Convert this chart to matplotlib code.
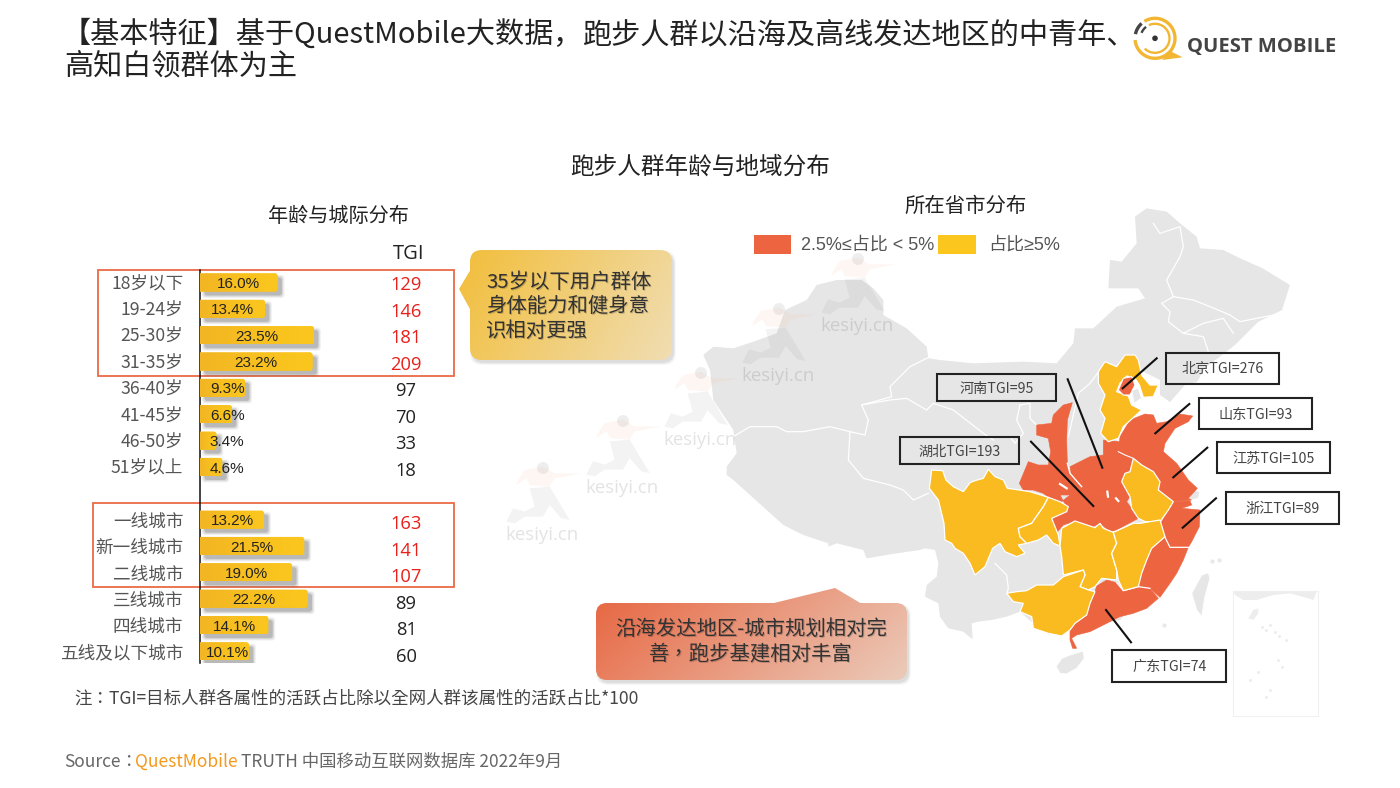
import numpy as np
import matplotlib
matplotlib.use('Agg')
import matplotlib.pyplot as plt
from matplotlib.colors import LinearSegmentedColormap
from matplotlib.patches import Circle, FancyBboxPatch, Polygon, Rectangle

plt.rcParams['font.family'] = ['Noto Sans CJK SC', 'DejaVu Sans']
TC_FONT = ['Noto Sans CJK TC', 'DejaVu Sans']

age_labels = ['18岁以下', '19-24岁', '25-30岁', '31-35岁', '36-40岁', '41-45岁', '46-50岁', '51岁以上']
age_share = [16.0, 13.4, 23.5, 23.2, 9.3, 6.6, 3.4, 4.6]
age_tgi = [129, 146, 181, 209, 97, 70, 33, 18]
city_labels = ['一线城市', '新一线城市', '二线城市', '三线城市', '四线城市', '五线及以下城市']
city_share = [13.2, 21.5, 19.0, 22.2, 14.1, 10.1]
city_tgi = [163, 141, 107, 89, 81, 60]
highlight_rows = [0, 1, 2, 3, 9, 10, 11]

province_tags = ['河南TGI=95', '湖北TGI=193', '北京TGI=276', '山东TGI=93', '江苏TGI=105', '浙江TGI=89', '广东TGI=74']

ORANGE = '#ED6440'
YELLOW = '#FABB20'
GREY = '#E6E6E6'
RED = '#E8201A'


def zoomed(pts, x0, y0):
    # outlines were traced on 3x crops of the picture
    return [(x0 + x / 3, y0 + y / 3) for x, y in pts]


xinjiang_edge = zoomed([(610, 465), (640, 440), (700, 445), (760, 425), (830, 400), (855, 330), (920, 300), (950, 255),
                        (1010, 240), (1085, 240), (1120, 265), (1150, 300), (1150, 345), (1220, 385), (1280, 440),
                        (1285, 475)], 500, 200)
north_edge = zoomed([(0, 480), (100, 490), (250, 485), (350, 490), (400, 430), (405, 385), (460, 385), (530, 320),
                     (615, 295), (595, 265), (505, 265), (510, 180), (545, 185), (590, 130), (585, 50), (620, 25),
                     (680, 35), (720, 70), (770, 110), (780, 145), (850, 150), (900, 175)], 940, 200)
east_edge = [(1262, 268), (1290, 285), (1282, 310), (1258, 322), (1235, 345), (1205, 368), (1197, 382), (1185, 385),
             (1170, 402), (1160, 395), (1160, 380), (1140, 370), (1120, 390), (1112, 430), (1150, 500), (1170, 560),
             (1120, 620), (1065, 630), (1035, 625)]
yunnan_edge = zoomed([(300, 455), (260, 470), (215, 480), (175, 485), (155, 490), (158, 538), (130, 515), (85, 505),
                      (60, 470), (55, 430), (15, 410), (20, 375), (50, 350), (55, 310), (45, 270), (15, 265),
                      (0, 270)], 920, 460)
tibet_edge = zoomed([(1190, 1060), (1100, 1075), (1090, 1050), (1010, 1030), (985, 1040), (985, 1030), (910, 1005),
                     (850, 975), (750, 885), (700, 840), (680, 825), (680, 800), (710, 760), (700, 690), (640, 600),
                     (630, 510)], 500, 200)
china_outline = xinjiang_edge + north_edge + east_edge + yunnan_edge + tibet_edge

grey_borders = [
    zoomed([(700, 710), (750, 680), (830, 680), (860, 695), (910, 695), (990, 680), (1050, 695), (1095, 705),
            (1105, 660), (1085, 615), (1170, 600), (1220, 595), (1280, 630), (1300, 610), (1360, 630), (1450, 700),
            (1480, 720)], 500, 200),
    zoomed([(1050, 695), (1045, 780), (1090, 835), (1170, 855), (1210, 870), (1240, 900), (1285, 880)], 500, 200),
    zoomed([(1085, 615), (1175, 590), (1170, 560), (1230, 500), (1290, 470)], 500, 200),
    zoomed([(640, 70), (660, 100), (720, 80), (730, 140), (720, 170), (680, 240), (700, 290), (665, 310), (690, 335),
            (685, 365), (730, 400), (790, 410), (805, 455)], 940, 200),
    zoomed([(700, 290), (760, 300), (810, 320), (870, 345), (900, 365), (1000, 345)], 940, 200),
    zoomed([(730, 400), (790, 370), (850, 355), (880, 400)], 940, 200),
    zoomed([(30, 195), (60, 190), (60, 235), (80, 255)], 1010, 340),
    zoomed([(30, 195), (20, 240), (40, 280), (15, 310), (0, 290)], 1010, 340),
    zoomed([(175, 290), (205, 160), (240, 130), (285, 70)], 1010, 340),
    zoomed([(225, 310), (260, 345), (265, 385), (260, 400)], 920, 460),
]

tianjin = zoomed([(365, 150), (385, 145), (395, 175), (372, 190)], 1010, 340)
shanghai = zoomed([(535, 475), (550, 450), (570, 455), (565, 475), (545, 480)], 1010, 340)
hainan = zoomed([(408, 620), (425, 595), (450, 585), (490, 573), (493, 595), (470, 625), (440, 642), (420, 640)],
                920, 460)
taiwan = zoomed([(875, 790), (905, 735), (925, 728), (930, 745), (915, 800), (905, 860), (890, 840)], 900, 330)
inset_land = zoomed([(1000, 785), (1250, 785), (1240, 810), (1225, 805), (1170, 790), (1120, 795), (1070, 810),
                     (1030, 810), (1005, 795)], 900, 330)
inset_hainan = zoomed([(1045, 865), (1060, 840), (1075, 835), (1075, 850), (1060, 870)], 900, 330)

shaanxi = zoomed([(130, 225), (160, 195), (187, 188), (172, 240), (170, 300), (172, 370), (180, 400), (215, 440),
                  (180, 465), (150, 465), (155, 485), (120, 475), (100, 460), (70, 450), (40, 450), (28, 430),
                  (55, 365), (85, 375), (115, 375), (122, 335), (115, 295), (80, 285), (80, 255), (125, 250)],
                 1010, 340)
henan = zoomed([(180, 380), (240, 350), (280, 345), (280, 300), (330, 305), (325, 335), (345, 345), (370, 355),
                (360, 395), (345, 400), (335, 425), (360, 470), (350, 485), (300, 470), (245, 455), (215, 440),
                (185, 415)], 1010, 340)
hubei = zoomed([(155, 485), (180, 465), (215, 440), (245, 455), (300, 470), (350, 485), (365, 505), (385, 535),
                (320, 570), (300, 575), (270, 550), (250, 560), (230, 555), (190, 545), (160, 555), (130, 590),
                (120, 540), (175, 510), (150, 465)], 1010, 340)
shandong_jiangsu = zoomed([(330, 290), (360, 240), (405, 222), (430, 225), (440, 250), (470, 245), (510, 222),
                           (548, 228), (535, 245), (495, 265), (465, 310), (460, 335), (500, 370), (535, 420),
                           (562, 445), (535, 475), (545, 480), (490, 485), (445, 450), (450, 425), (430, 395),
                           (395, 375), (370, 355), (345, 345), (325, 335)], 1010, 340)
beijing = zoomed([(325, 150), (340, 115), (365, 110), (375, 135), (360, 165), (340, 165)], 1010, 340)
zhejiang = zoomed([(760, 125), (810, 122), (815, 135), (785, 145), (840, 150), (838, 200), (815, 245), (805, 262),
                   (775, 262), (750, 262), (735, 232), (722, 190), (745, 150)], 920, 460)
fujian = zoomed([(735, 232), (750, 262), (775, 262), (805, 262), (790, 300), (770, 340), (750, 370), (720, 412),
                 (690, 385), (655, 378), (665, 340), (680, 300), (695, 265)], 920, 460)
guangdong = zoomed([(525, 395), (530, 378), (560, 360), (590, 368), (610, 392), (655, 380), (690, 385), (715, 415),
                    (680, 445), (640, 460), (600, 470), (560, 490), (510, 515), (470, 525), (455, 535), (470, 565),
                    (458, 565), (450, 540), (450, 510), (465, 490), (500, 465), (510, 430)], 920, 460)

hebei = zoomed([(265, 95), (285, 65), (320, 80), (345, 45), (375, 45), (385, 60), (395, 105), (420, 135), (445, 135),
                (430, 170), (400, 172), (388, 135), (375, 115), (350, 108), (330, 130), (320, 155), (355, 168),
                (365, 195), (395, 210), (340, 260), (325, 295), (295, 305), (272, 280), (285, 235), (270, 210),
                (285, 165), (265, 130)], 1010, 340)
anhui = zoomed([(370, 355), (395, 375), (430, 395), (450, 425), (445, 450), (490, 485), (475, 510), (450, 545),
                (405, 545), (385, 535), (365, 505), (360, 470), (335, 425), (345, 400), (360, 395)], 1010, 340)
sichuan = zoomed([(35, 30), (68, 32), (78, 60), (100, 80), (130, 95), (150, 68), (165, 62), (190, 55), (205, 28),
                  (225, 50), (250, 60), (262, 85), (298, 90), (330, 95), (385, 112), (370, 140), (335, 190),
                  (295, 205), (300, 230), (320, 250), (295, 255), (315, 280), (290, 290), (255, 275), (240, 250),
                  (218, 265), (195, 320), (165, 345), (150, 310), (130, 280), (105, 265), (95, 250), (75, 240),
                  (72, 190), (55, 120), (28, 85)], 920, 460)
chongqing = zoomed([(385, 112), (420, 125), (445, 140), (440, 155), (395, 175), (415, 225), (420, 258), (400, 250),
                    (380, 225), (355, 240), (320, 250), (300, 230), (295, 205), (335, 190), (370, 140)], 920, 460)
hunan = zoomed([(425, 205), (465, 183), (525, 203), (540, 190), (550, 205), (580, 217), (590, 250), (575, 280),
                (590, 330), (590, 360), (545, 355), (525, 380), (505, 390), (480, 380), (495, 345), (490, 330),
                (430, 345), (425, 290), (420, 258)], 920, 460)
jiangxi = zoomed([(580, 217), (640, 190), (660, 190), (720, 180), (735, 230), (695, 265), (680, 300), (665, 340),
                  (655, 380), (610, 392), (595, 360), (590, 330), (575, 280), (590, 250)], 920, 460)
guangxi = zoomed([(260, 400), (290, 395), (320, 392), (350, 375), (400, 375), (430, 350), (490, 330), (495, 345),
                  (480, 380), (505, 390), (525, 395), (510, 430), (500, 465), (465, 490), (450, 510), (425, 528),
                  (385, 520), (340, 505), (335, 470), (300, 455), (310, 430), (280, 425)], 920, 460)

fig = plt.figure(figsize=(14, 7.88), dpi=100)
bg = fig.add_axes([0, 0, 1, 1], zorder=1)
bg.set_xlim(0, 1400)
bg.set_ylim(788, 0)
bg.axis('off')


def soft_box(ax, x0, y0, x1, y1, r, dx, dy, grow=2.0, color='#666666', aspect=1, z=2, alpha=1.0):
    for g, a in [(grow, 0.07), (grow / 2, 0.11), (0.0, 0.18)]:
        ax.add_patch(FancyBboxPatch((x0 + dx - g, y0 + dy - g * aspect), x1 - x0 + 2 * g,
                                    y1 - y0 + 2 * g * aspect,
                                    boxstyle=f'round,pad=0,rounding_size={r}', mutation_aspect=aspect,
                                    fc=color, ec='none', alpha=a * alpha, zorder=z))


def gradient_box(x0, y0, x1, y1, r, c0, c1, tail):
    soft_box(bg, x0, y0, x1, y1, r, 2, 3, color='#999999', z=6)
    cmap = LinearSegmentedColormap.from_list('callout', [c0, c1])
    gx, gy = np.meshgrid(np.linspace(0, 1, 200), np.linspace(0, 1, 100))
    extent = (x0 - 15, x1, y1, y0 - 20)
    body = FancyBboxPatch((x0, y0), x1 - x0, y1 - y0, boxstyle=f'round,pad=0,rounding_size={r}',
                          transform=bg.transData)
    tip = Polygon(tail, closed=True, transform=bg.transData)
    for shape in (body, tip):
        im = bg.imshow(0.75 * gx + 0.25 * gy, cmap=cmap, extent=extent, aspect='auto', origin='upper', zorder=7)
        im.set_clip_path(shape)


def shaded_text(x, y, s, **kw):
    bg.text(x + 1, y + 1, s, color='#000000', alpha=0.18, zorder=8, **kw)
    bg.text(x, y, s, color='#333333', zorder=9, **kw)


def runner(tx, ty):
    # faint watermark figure above each kesiyi.cn caption
    torso = [(-72, -165), (-52, -195), (3, -205), (38, -185), (118, -185), (38, -170), (23, -145), (-37, -150),
             (-47, -170), (-77, -150)]
    legs = [(-37, -140), (23, -145), (68, -70), (83, -45), (58, -50), (23, -90), (3, -55), (-52, -55), (-82, -35),
            (-107, -40), (-87, -80), (-52, -70), (-22, -85)]
    bg.add_patch(Polygon(zoomed(torso, tx, ty), fc='#F6B48A', ec='none', alpha=0.11, zorder=5))
    bg.add_patch(Polygon(zoomed(legs, tx, ty), fc='#8A8A96', ec='none', alpha=0.10, zorder=5))
    bg.add_patch(Circle((tx + 1, ty - 67), 6, fc='#8A8A8A', ec='none', alpha=0.14, zorder=5))
    bg.text(tx, ty, 'kesiyi.cn', family='Open Sans', fontsize=13.4, color='#000000', alpha=0.11,
            ha='center', va='center', zorder=5)


def ring(r, start, end, color, lw):
    # angles counter-clockwise from east
    t = np.radians(np.linspace(start, end, 60))
    bg.plot(logo_x + r * np.cos(t), logo_y - r * np.sin(t), color=color, lw=lw, solid_capstyle='butt', zorder=3)


# map
bg.add_patch(Polygon(china_outline, closed=True, fc=GREY, ec='none', zorder=2))
for part in (tianjin, shanghai, hainan, taiwan):
    bg.add_patch(Polygon(part, closed=True, fc=GREY, ec='white', lw=0.7, zorder=2))
for line in grey_borders:
    bg.plot(*zip(*line), color='white', lw=0.9, zorder=3)
for part in (shaanxi, henan, hubei, shandong_jiangsu, zhejiang, fujian, guangdong):
    bg.add_patch(Polygon(part, closed=True, fc=ORANGE, ec=ORANGE, lw=0.4, zorder=3))
bg.plot(*zip(*zoomed([(172, 370), (180, 400), (215, 440)], 1010, 340)), color='white', lw=1.0, zorder=4)
bg.plot(*zip(*zoomed([(325, 335), (345, 345), (370, 355)], 1010, 340)), color='white', lw=0.8, zorder=4)
bg.plot(*zip(*fujian[:4]), color='white', lw=0.9, zorder=4)
bg.plot(*zip(*guangdong[3:7]), color='white', lw=0.9, zorder=4)
for gap in ([(150, 432), (170, 445)], [(292, 455), (294, 470)], [(318, 475), (325, 483)]):
    bg.plot(*zip(*zoomed(gap, 1010, 340)), color='white', lw=1.6, zorder=4)
for part in (hebei, anhui, sichuan, chongqing, hunan, jiangxi, guangxi):
    bg.add_patch(Polygon(part, closed=True, fc=YELLOW, ec='white', lw=0.9, zorder=4))
bg.add_patch(Polygon(beijing, closed=True, fc=ORANGE, ec='white', lw=0.8, zorder=4))

bg.add_patch(Rectangle((1233, 591), 85, 125, fc='white', ec='#F0F0F0', lw=0.8, zorder=2))
bg.add_patch(Polygon(inset_land, closed=True, fc='#EDEDED', ec='none', zorder=3))
bg.add_patch(Polygon(inset_hainan, closed=True, fc='#EDEDED', ec='none', zorder=3))
bg.scatter([1262, 1266, 1270, 1275, 1279, 1286, 1278, 1282, 1250, 1258, 1270, 1266],
           [627, 630, 625, 632, 636, 640, 660, 667, 680, 672, 690, 697], s=1.2, color='#ECECEC', zorder=3)
bg.scatter([1212, 1219, 1164], [561, 560, 625], s=4, color='#E8E8E8', zorder=3)

for tx, ty in [(857, 326), (778, 376), (700, 440), (622, 488), (542, 535)]:
    runner(tx, ty)

# province tags and leader lines
tag_boxes = [(936.7, 374, 1055.7, 401), (900, 437.3, 1019, 464.3), (1165.7, 352.7, 1279, 384),
             (1198.7, 397.7, 1311.7, 429.3), (1216.7, 441.7, 1330, 473.3), (1225.7, 491.7, 1338.7, 523.7),
             (1112, 650.3, 1225.7, 682.3)]
leaders = [((1067.7, 379.3), (1102.3, 467.7)), ((1031, 441.7), (1093.3, 506)), ((1156.7, 358.3), (1122.7, 388.3)),
           ((1189.3, 404), (1155.3, 433.3)), ((1207.3, 447.7), (1173.3, 477.3)), ((1216, 498.3), (1182.7, 527.7)),
           ((1106, 610), (1131, 642.3))]
for tag, (x0, y0, x1, y1), (p0, p1) in zip(province_tags, tag_boxes, leaders):
    bg.add_patch(Rectangle((x0, y0), x1 - x0, y1 - y0, fc='none', ec='#222222', lw=1.5, zorder=10))
    bg.plot([p0[0], p1[0]], [p0[1], p1[1]], color='#111111', lw=1.5, zorder=10)
    bg.text((x0 + x1) / 2 + 0.5, (y0 + y1) / 2 + 1, tag, fontsize=10.2, color='#444444', ha='center', va='center',
            zorder=10)

# callouts
gradient_box(470, 250, 672, 360, 12, '#F2BC33', '#F0DDB2', [(471, 269), (459, 289), (471, 311)])
gradient_box(596, 603, 907, 680, 11, '#E7603A', '#EBCBBA', [(770, 604), (835, 588), (862, 604)])
for s, y in zip(['35岁以下用户群体', '身体能力和健身意', '识相对更强'], [282, 306, 331]):
    shaded_text(486, y, s, fontsize=14.7, ha='left', va='center')
shaded_text(751, 629, '沿海发达地区-城市规划相对完', fontsize=14.7, ha='center', va='center')
shaded_text(751, 654, '善，跑步基建相对丰富', fontsize=14.7, ha='center', va='center', family=TC_FONT)

# legend
legend_font = ['Liberation Sans', 'Noto Sans CJK SC']
bg.add_patch(Rectangle((754, 235), 37, 19, fc=ORANGE, ec='none', zorder=3))
bg.text(801, 245, '2.5%≤占比 < 5%', fontsize=13, color='#555555', va='center', zorder=3, family=legend_font)
bg.add_patch(Rectangle((938, 235), 38, 19, fc='#FBC71F', ec='none', zorder=3))
bg.text(988, 245, '占比≥5%', fontsize=13, color='#555555', va='center', zorder=3, family=legend_font)

# highlight frames
for x0, y0, x1, y1 in [(98, 270, 454, 376), (93, 503, 454, 587)]:
    bg.add_patch(Rectangle((x0, y0), x1 - x0, y1 - y0, fc='none', ec='#EC6A45', lw=1.3, zorder=3))

# titles, the comma sits apart as in the reference
bg.text(62, 35, '【基本特征】基于QuestMobile大数据', fontsize=21, color='#222222', va='center')
bg.text(567, 43, '，', fontsize=21, color='#222222', ha='center', va='baseline')
bg.text(583, 35, '跑步人群以沿海及高线发达地区的中青年、', fontsize=21, color='#222222', va='center')
bg.text(64, 66, '高知白领群体为主', fontsize=21, color='#222222', va='center')
bg.text(700, 167, '跑步人群年龄与地域分布', fontsize=17, color='#222222', ha='center', va='center')
bg.text(338, 216, '年龄与城际分布', fontsize=14.5, color='#222222', ha='center', va='center')
bg.text(966, 206, '所在省市分布', fontsize=14.7, color='#222222', ha='center', va='center')
bg.text(409, 254, 'TGI', family='Open Sans', fontsize=14.5, color='#222222', ha='center', va='center')

# logo
logo_x, logo_y = 1155, 38.3
ring(20, 122, -175, '#F2B632', 2.4)
ring(20, 132, 168, '#444444', 2.4)
ring(14.5, 115, -135, '#F2B632', 1.7)
ring(14.5, 128, 158, '#444444', 1.7)
bg.add_patch(Polygon([(1170, 51), (1182.7, 57.3), (1162, 60)], fc='#F2B632', ec='none', zorder=3))
bg.add_patch(Circle((logo_x, logo_y), 2.8, fc='#333333', ec='none', zorder=3))
bg.text(1187, 47, 'QUEST MOBILE', family='Open Sans', fontweight='bold', fontsize=14.6, color='#444444', va='center')

# footer
bg.text(74, 699, '注：TGI=目标人群各属性的活跃占比除以全网人群该属性的活跃占比*100', fontsize=12.6, color='#444444', va='center',
        family=TC_FONT)
bg.text(64, 762, 'Source：', fontsize=12.5, color='#666666', va='center', family=TC_FONT)
bg.text(135, 762, 'QuestMobile', fontsize=12.5, color='#F39A1F', va='center')
bg.text(241, 762, 'TRUTH 中国移动互联网数据库 2022年9月', fontsize=12.5, color='#666666', va='center')

# bars
labels = age_labels + city_labels
shares = age_share + city_share
tgis = age_tgi + city_tgi
rows = list(range(len(age_labels))) + [i + len(age_labels) + 1 for i in range(len(city_labels))]

ax = fig.add_axes([200 / 1400, 1 - 663 / 788, 260 / 1400, 393 / 788], zorder=2)
ax.patch.set_alpha(0)
ax.set_xlim(0, 260 / 4.85)
ax.set_ylim(14.44, -0.474)
for side in ['top', 'right', 'bottom']:
    ax.spines[side].set_visible(False)
ax.spines['left'].set_linewidth(1.1)
ax.spines['left'].set_color('#111111')
ax.set_xticks([])
ax.set_yticks(rows, labels, fontsize=12.7, color='#555555')
ax.tick_params(axis='y', length=0, pad=12)

bar_h = 0.69
corner_aspect = 0.18
bar_cmap = LinearSegmentedColormap.from_list('bar', ['#F2B524', '#F8C01F', '#FBC71E'])
bars = ax.barh(rows, shares, height=bar_h, color='#F8C01F', zorder=3)
for bar, row, share, tgi in zip(bars, rows, shares, tgis):
    soft_box(ax, 0, row - bar_h / 2, share, row + bar_h / 2, 0.6, 0.9, 0.15, grow=0.5, color='#555555',
             aspect=corner_aspect, z=2, alpha=1.3)
    edge = FancyBboxPatch((-2, row - bar_h / 2), share + 2, bar_h, boxstyle='round,pad=0,rounding_size=0.6',
                          mutation_aspect=corner_aspect, transform=ax.transData)
    bar.set_clip_path(edge)
    im = ax.imshow(np.linspace(0, 1, 64).reshape(1, -1), cmap=bar_cmap, aspect='auto', zorder=3,
                   extent=(0, share, row + bar_h / 2, row - bar_h / 2))
    im.set_clip_path(edge)
    ax.text(max(share / 2, 5.6), row + 0.06, f'{share:.1f}%', family='Liberation Sans', fontsize=11, color='#222222',
            ha='center', va='center', zorder=4)
    ax.text(42.5, row + 0.1 + row * 0.008, str(tgi), family='Open Sans', fontsize=13.2, ha='center', va='center',
            zorder=4, color=RED if row in highlight_rows else '#222222')
ax.set_xlim(0, 260 / 4.85)
ax.set_ylim(14.44, -0.474)
bg.set_xlim(0, 1400)
bg.set_ylim(788, 0)

fig.savefig('out.png', dpi=100)
